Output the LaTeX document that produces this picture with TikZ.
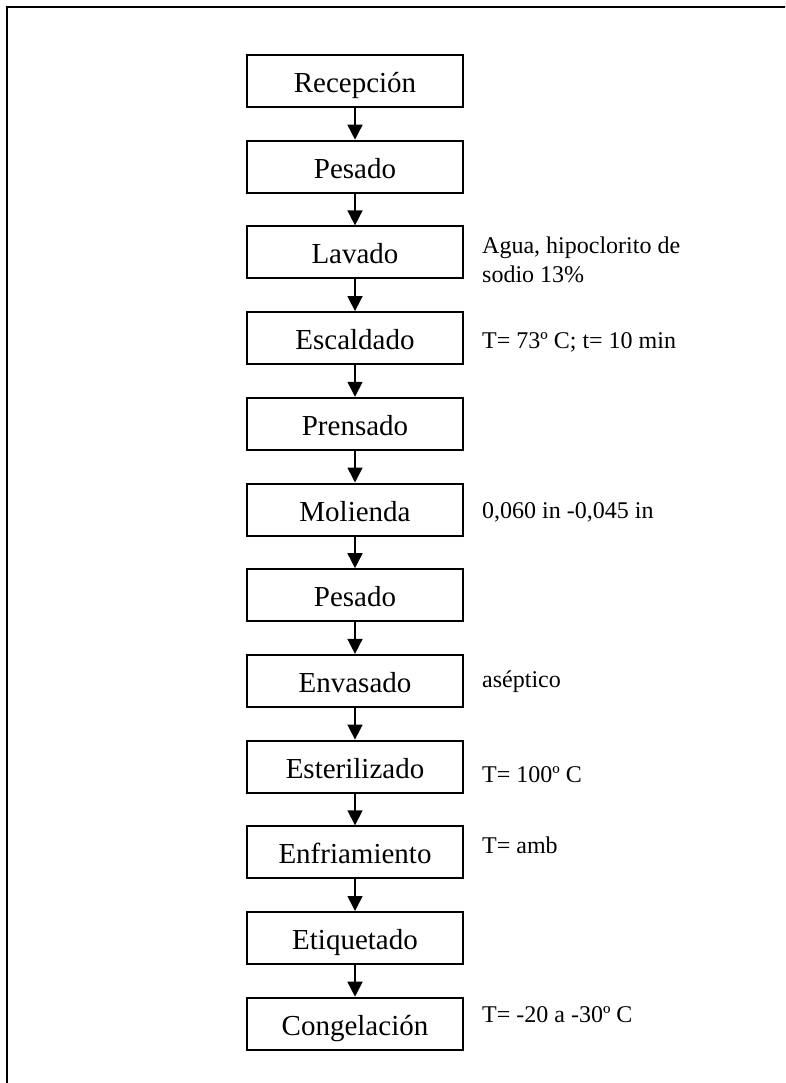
\documentclass[tikz,border=0pt]{standalone}
\usepackage{fontspec}
\setmainfont{Liberation Serif}
\usetikzlibrary{arrows.meta}
\begin{document}
\begin{tikzpicture}[x=1pt,y=-1pt,
  stepbox/.style={draw, line width=2pt, minimum width=216pt, minimum height=52pt,
    inner sep=0pt, text height=37.5pt, text depth=14.5pt,
    font=\fontsize{29}{34}\selectfont},
  note/.style={anchor=base west, inner sep=0pt, font=\fontsize{24}{28}\selectfont},
  flow/.style={line width=1.6pt, -{Triangle[width=15pt,length=15pt]}}]
\clip (0,0) rectangle (785,1083);
\draw[line width=2.6pt] (7,1100) -- (7,7) -- (800,7);
\foreach \i/\t in {0/Recepción,1/Pesado,2/Lavado,3/Escaldado,4/Prensado,5/Molienda,6/Pesado,7/Envasado,8/Esterilizado,9/Enfriamiento,10/Etiquetado,11/Congelación}
  \node[stepbox] (b\i) at (355,{81+85.7*\i}) {\t};
\foreach \i [evaluate=\i as \j using int(\i+1)] in {0,...,10}
  \draw[flow] (b\i) -- (b\j);
\node[note] (n1) at (482,254) {Agua, hipoclorito de};
\node[note] (n1b) at (482,282) {sodio 13\%};
\node[note] (n2) at (482,348) {T= 73º C; t= 10 min};
\node[note] (n3) at (482,518) {0,060 in -0,045 in};
\node[note] (n4) at (482,687) {aséptico};
\node[note] (n5) at (482,782) {T= 100º C};
\node[note] (n6) at (482,853) {T= amb};
\node[note] (n7) at (482,1022) {T= -20 a -30º C};
\end{tikzpicture}
\end{document}
